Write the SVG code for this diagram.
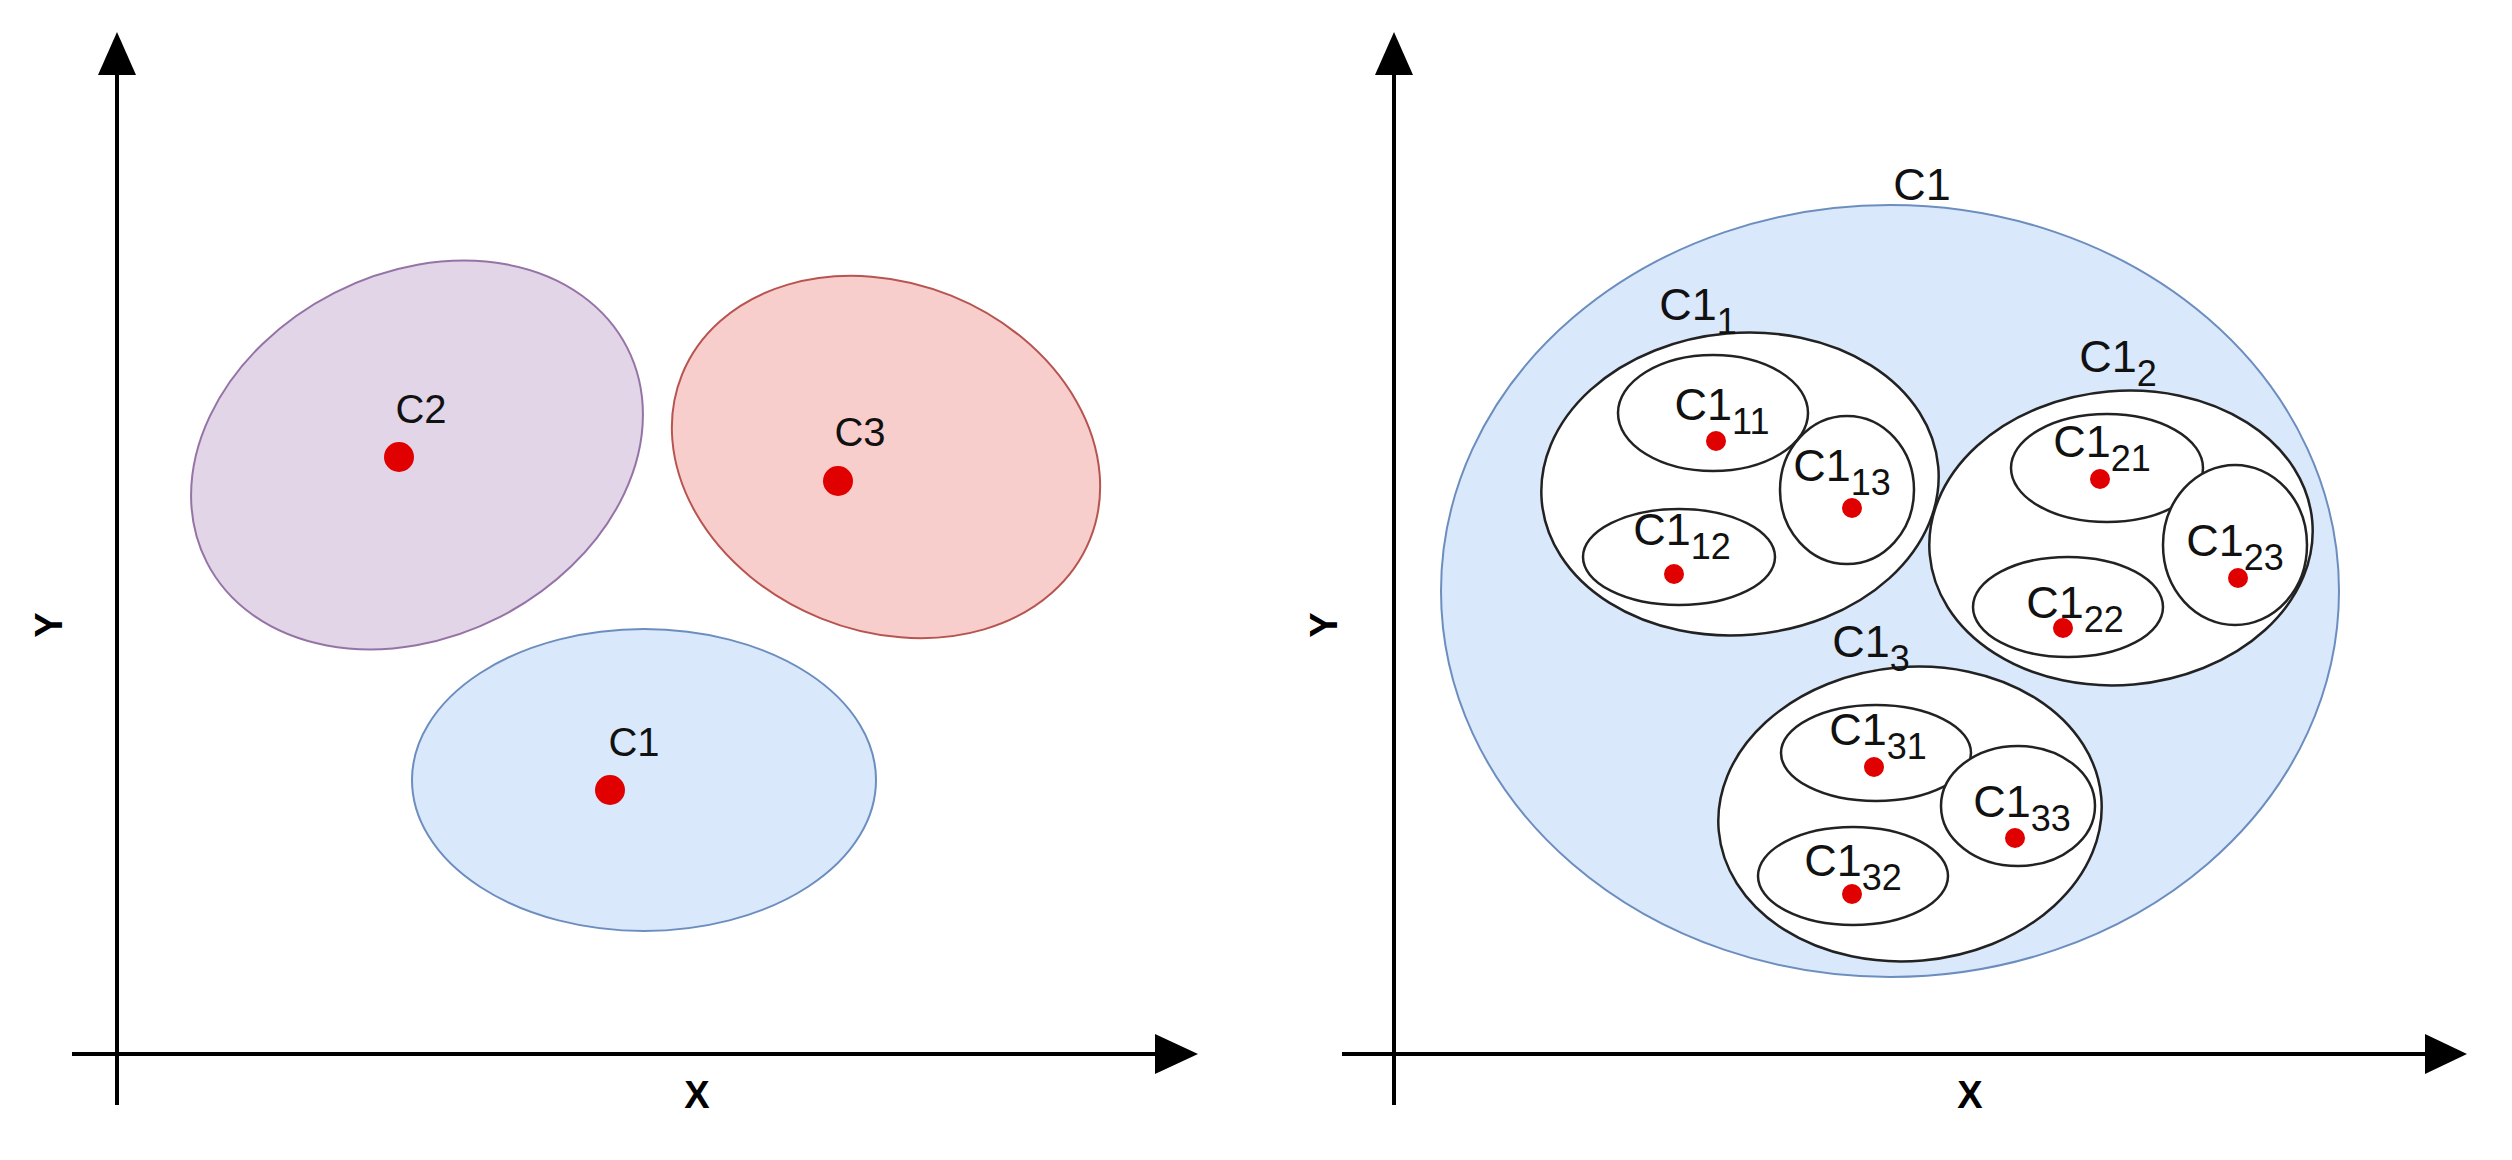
<svg xmlns="http://www.w3.org/2000/svg" width="2512" height="1160" viewBox="0 0 2512 1160">
<style>
.ax{stroke:#000;stroke-width:4;fill:none}
.t{font-family:"Liberation Sans",Arial,sans-serif;font-size:40px;fill:#111;text-anchor:middle}
.r{font-size:45px}
.ab{font-family:"Liberation Sans",Arial,sans-serif;font-size:38px;font-weight:bold;fill:#000;text-anchor:middle}
.s{font-size:36px}
.dot{fill:#e00000}
.in{fill:#fff;stroke:#222;stroke-width:2.5}
</style>
<rect width="2512" height="1160" fill="#fff"/>
<g id="connectors">
<line class="ax" x1="117" y1="1105" x2="117" y2="75"/>
<path d="M98,75 L117,32 L136,75 z" fill="#000"/>
<line class="ax" x1="72" y1="1054" x2="1160" y2="1054"/>
<path d="M1155,1034 L1198,1054 L1155,1074 z" fill="#000"/>
<line class="ax" x1="1394" y1="1105" x2="1394" y2="75"/>
<path d="M1375,75 L1394,32 L1413,75 z" fill="#000"/>
<line class="ax" x1="1342" y1="1054" x2="2430" y2="1054"/>
<path d="M2425,1034 L2467,1054 L2425,1074 z" fill="#000"/>
</g>
<text class="ab" transform="translate(62,625) rotate(-90)">Y</text>
<text class="ab" x="697" y="1108">X</text>
<text class="ab" transform="translate(1337,625) rotate(-90)">Y</text>
<text class="ab" x="1970" y="1108">X</text>
<g id="C2"><ellipse cx="417" cy="455" rx="236" ry="182" transform="rotate(-27 417 455)" fill="#e1d5e7" stroke="#9673a6" stroke-width="2"/><circle class="dot" cx="399" cy="457" r="15"/><text class="t" x="421" y="423">C2</text></g>
<g id="C3"><ellipse cx="886" cy="457" rx="220" ry="174" transform="rotate(22 886 457)" fill="#f8cecc" stroke="#b85450" stroke-width="2"/><circle class="dot" cx="838" cy="481" r="15"/><text class="t" x="860" y="446">C3</text></g>
<g id="C1"><ellipse cx="644" cy="780" rx="232" ry="151" fill="#dae8fc" stroke="#6c8ebf" stroke-width="2"/><circle class="dot" cx="610" cy="790" r="15"/><text class="t" x="634" y="756">C1</text></g>
<g id="C1big"><ellipse cx="1890" cy="591" rx="449" ry="386" fill="#dae8fc" stroke="#6c8ebf" stroke-width="2"/><text class="t r" x="1922" y="200">C1</text></g>
<g id="C1_1"><ellipse class="in" cx="1740" cy="484" rx="199" ry="151" transform="rotate(-5 1740 484)"/><text class="t r" x="1698" y="320">C1<tspan class="s" dy="14">1</tspan></text></g>
<g id="C1_11"><ellipse class="in" cx="1713" cy="413" rx="95" ry="58"/><circle class="dot" cx="1716" cy="441" r="10"/><text class="t r" x="1722" y="420">C1<tspan class="s" dy="14">11</tspan></text></g>
<g id="C1_12"><ellipse class="in" cx="1679" cy="557" rx="96" ry="48"/><circle class="dot" cx="1674" cy="574" r="10"/><text class="t r" x="1682" y="545">C1<tspan class="s" dy="14">12</tspan></text></g>
<g id="C1_13"><ellipse class="in" cx="1847" cy="490" rx="67" ry="74"/><circle class="dot" cx="1852" cy="508" r="10"/><text class="t r" x="1842" y="481">C1<tspan class="s" dy="14">13</tspan></text></g>
<g id="C1_2"><ellipse class="in" cx="2121" cy="538" rx="192" ry="147" transform="rotate(-5 2121 538)"/><text class="t r" x="2118" y="372">C1<tspan class="s" dy="14">2</tspan></text></g>
<g id="C1_21"><ellipse class="in" cx="2107" cy="468" rx="96" ry="54"/><circle class="dot" cx="2100" cy="479" r="10"/><text class="t r" x="2102" y="457">C1<tspan class="s" dy="14">21</tspan></text></g>
<g id="C1_22"><ellipse class="in" cx="2068" cy="607" rx="95" ry="50"/><circle class="dot" cx="2063" cy="628" r="10"/><text class="t r" x="2075" y="618">C1<tspan class="s" dy="14">22</tspan></text></g>
<g id="C1_23"><ellipse class="in" cx="2235" cy="545" rx="72" ry="80"/><circle class="dot" cx="2238" cy="578" r="10"/><text class="t r" x="2235" y="556">C1<tspan class="s" dy="14">23</tspan></text></g>
<g id="C1_3"><ellipse class="in" cx="1910" cy="814" rx="192" ry="147" transform="rotate(-5 1910 814)"/><text class="t r" x="1871" y="657">C1<tspan class="s" dy="14">3</tspan></text></g>
<g id="C1_31"><ellipse class="in" cx="1876" cy="753" rx="95" ry="48"/><circle class="dot" cx="1874" cy="767" r="10"/><text class="t r" x="1878" y="745">C1<tspan class="s" dy="14">31</tspan></text></g>
<g id="C1_32"><ellipse class="in" cx="1853" cy="876" rx="95" ry="49"/><circle class="dot" cx="1852" cy="894" r="10"/><text class="t r" x="1853" y="876">C1<tspan class="s" dy="14">32</tspan></text></g>
<g id="C1_33"><ellipse class="in" cx="2018" cy="806" rx="77" ry="60"/><circle class="dot" cx="2015" cy="838" r="10"/><text class="t r" x="2022" y="817">C1<tspan class="s" dy="14">33</tspan></text></g>
</svg>
